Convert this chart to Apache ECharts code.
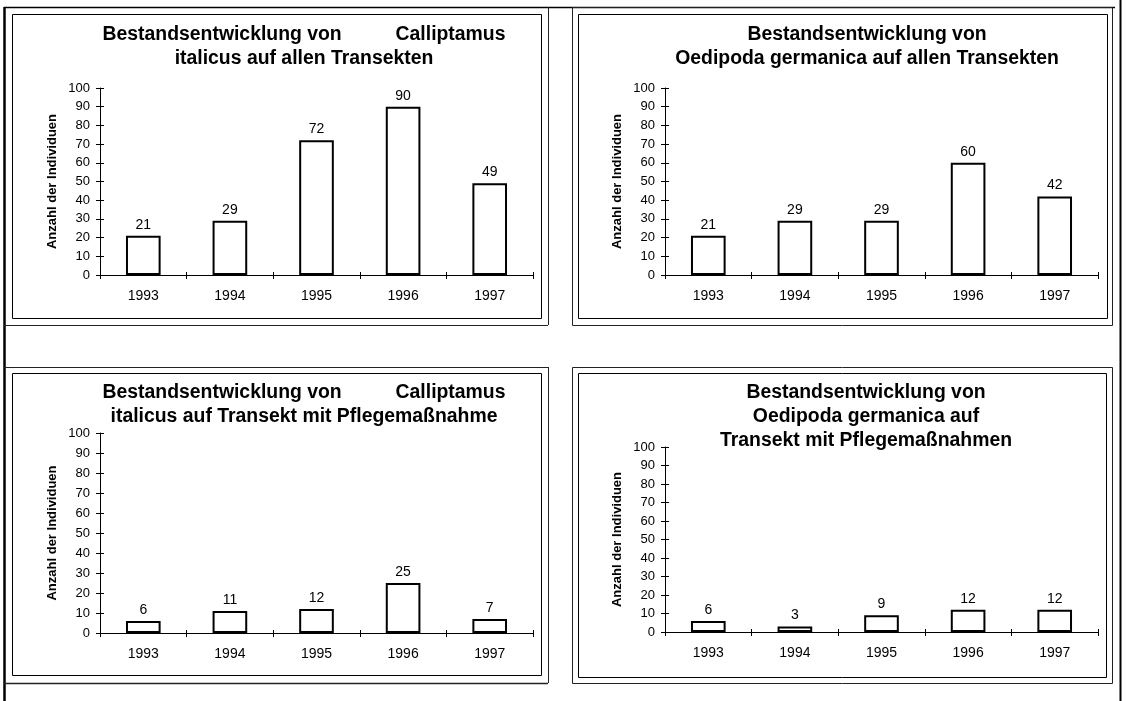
<!DOCTYPE html>
<html><head><meta charset="utf-8">
<script src="https://cdn.jsdelivr.net/npm/echarts@6/dist/echarts.min.js"></script>
<style>html,body{margin:0;padding:0;background:#fff}#c{width:1127px;height:701px}</style>
</head><body><div id="c"></div>
<script>
const years = ['1993','1994','1995','1996','1997'];
const callAll = [21, 29, 72, 90, 49];
const oediAll = [21, 29, 29, 60, 42];
const callPflege = [6, 11, 12, 25, 7];
const oediPflege = [6, 3, 9, 12, 12];
const yTicks = [0,10,20,30,40,50,60,70,80,90,100];
const yName = 'Anzahl der Individuen';
const title1 = ['Bestandsentwicklung von          Calliptamus', 'italicus auf allen Transekten'];
const title2 = ['Bestandsentwicklung von', 'Oedipoda germanica auf allen Transekten'];
const title3 = ['Bestandsentwicklung von          Calliptamus', 'italicus auf Transekt mit Pflegemaßnahme'];
const title4 = ['Bestandsentwicklung von', 'Oedipoda germanica auf', 'Transekt mit Pflegemaßnahmen'];

const FONT = '"Liberation Sans", Arial, sans-serif';
const chart = echarts.init(document.getElementById('c'), null, {renderer:'canvas'});

const panels = [
  {grid:{left:100, top:88, width:433, height:187}, data:callAll, title:title1, tx:304, ty:[35,59]},
  {grid:{left:665, top:88, width:433, height:187}, data:oediAll, title:title2, tx:867, ty:[35,59]},
  {grid:{left:100, top:433, width:433, height:200}, data:callPflege, title:title3, tx:304, ty:[393,417]},
  {grid:{left:665, top:447, width:433, height:185}, data:oediPflege, title:title4, tx:866, ty:[393,417,441]}
];

const grid=[], xAxis=[], yAxis=[], series=[], graphic=[];
const yMin = yTicks[0], yMax = yTicks[yTicks.length-1], yInt = yTicks[1]-yTicks[0];
panels.forEach((p,i)=>{
  grid.push(Object.assign({containLabel:false}, p.grid));
  xAxis.push({type:'category', gridIndex:i, data:years, boundaryGap:true,
    axisLine:{lineStyle:{color:'#000', width:1}},
    axisTick:{show:true, inside:false, length:4, lineStyle:{color:'#000'}},
    axisLabel:{color:'#000', fontSize:14, fontFamily:FONT, margin:14},
    splitLine:{show:false}});
  xAxis.push({type:'category', gridIndex:i, data:years, position:'bottom', boundaryGap:true,
    axisLine:{show:false}, axisTick:{show:true, inside:true, length:3, lineStyle:{color:'#000'}},
    axisLabel:{show:false}, splitLine:{show:false}});
  yAxis.push({type:'value', gridIndex:i, min:yMin, max:yMax, interval:yInt,
    name:yName, nameLocation:'middle', nameRotate:90, nameGap:41,
    nameTextStyle:{color:'#000', fontSize:13, fontWeight:'bold', fontFamily:FONT},
    axisLine:{show:true, lineStyle:{color:'#000', width:1}},
    axisTick:{show:true, inside:false, length:4, lineStyle:{color:'#000'}},
    axisLabel:{color:'#000', fontSize:13, fontFamily:FONT, margin:10},
    splitLine:{show:false}});
  yAxis.push({type:'value', gridIndex:i, min:yMin, max:yMax, interval:yInt, position:'left',
    axisLine:{show:false}, axisTick:{show:true, inside:true, length:4, lineStyle:{color:'#000'}},
    axisLabel:{show:false}, splitLine:{show:false}});
  series.push({type:'bar', xAxisIndex:2*i, yAxisIndex:2*i, data:p.data, barWidth:'40%',
    itemStyle:{color:'#fff', borderColor:'#000', borderWidth:2},
    label:{show:true, position:'top', distance:4, color:'#000', fontSize:14, fontFamily:FONT},
    silent:true, animation:false});
  p.title.forEach((t,j)=>{
    graphic.push({type:'text', x:p.tx, y:p.ty[j], silent:true,
      style:{text:t, fill:'#000', font:'bold 19.4px '+FONT, textAlign:'center', textVerticalAlign:'middle'}});
  });
});

function rect(x1,y1,x2,y2,w,c){
  return {type:'rect', shape:{x:x1,y:y1,width:x2-x1,height:y2-y1}, silent:true, z:-1,
    style:{fill:'none', stroke:c||'#000', lineWidth:w||1}};
}
function line(x1,y1,x2,y2,w,c){
  return {type:'line', shape:{x1:x1,y1:y1,x2:x2,y2:y2}, silent:true, z:-1,
    style:{stroke:c||'#000', lineWidth:w||1}};
}
graphic.push(line(4.5,7,4.5,701,2.5));
graphic.push(line(4,7.5,1115,7.5,1.5));
graphic.push(line(1120.5,0,1120.5,701,2));
graphic.push(line(548.5,7,548.5,325,1,'#222'));
graphic.push(line(4,325.5,548,325.5,1,'#222'));
graphic.push(rect(12.5,14.5,541.5,318.5,1));
graphic.push(rect(572.5,7.5,1112.5,325.5,1,'#222'));
graphic.push(rect(578.5,14.5,1107.5,318.5,1));
graphic.push(line(4,367.5,548,367.5,1,'#222'));
graphic.push(line(548.5,367,548.5,683,1,'#222'));
graphic.push(line(4,683.5,548,683.5,1.5,'#222'));
graphic.push(rect(12.5,373.5,541.5,675.5,1));
graphic.push(rect(572.5,367.5,1112.5,683.5,1,'#222'));
graphic.push(rect(578.5,373.5,1106.5,677.5,1));

chart.setOption({animation:false, backgroundColor:'#fff', grid, xAxis, yAxis, series, graphic});
</script></body></html>
